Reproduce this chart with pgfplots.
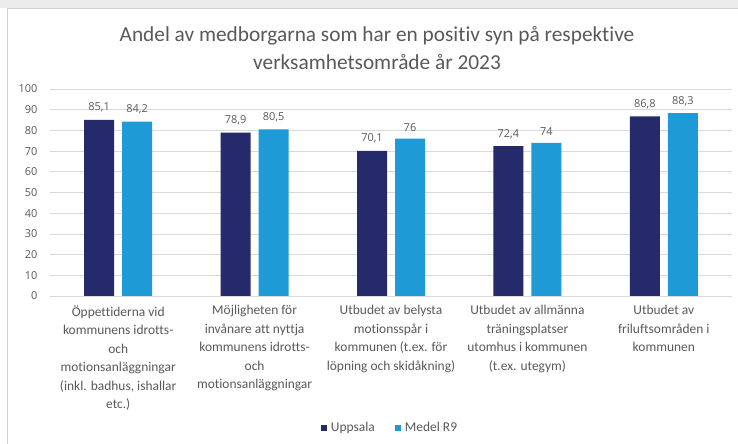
\documentclass[border=0pt]{standalone}
\usepackage{pgfplots}
\pgfplotsset{compat=1.18}
\usepackage{fontspec}
\setmainfont{Carlito}[Ligatures=NoCommon]
\newfontfamily\numfont{Open Sans}
\definecolor{dark}{HTML}{252A6B}
\definecolor{light}{HTML}{1E9BD7}
\definecolor{txt}{HTML}{595959}
\definecolor{gridc}{HTML}{D9D9D9}
\begin{document}
\begin{tikzpicture}[x=1bp,y=1bp]
\useasboundingbox (0,0) rectangle (738,444);
\fill[white] (0,0) rectangle (738,444);
\fill[gray!15] (0,436) rectangle (738,444);
\draw[gray!35] (7,0) -- (7,436) -- (738,436);
\node[txt, font=\fontsize{21.4}{28}\selectfont, align=center] at (377,396) {Andel av medborgarna som har en positiv syn på respektive\\verksamhetsområde år 2023};
\begin{axis}[
  at={(50bp,148bp)}, anchor=south west, scale only axis,
  width=682bp, height=207bp,
  ybar=8bp, bar width=30bp,
  xmin=-0.5, xmax=4.5, ymin=0, ymax=100,
  ytick={0,10,...,100},
  xtick={0,1,2,3,4},
  xticklabels={
    {Öppettiderna vid\\kommunens idrotts-\\och\\motionsanläggningar\\(inkl. badhus, ishallar\\etc.)},
    {Möjligheten för\\invånare att nyttja\\kommunens idrotts-\\och\\motionsanläggningar},
    {Utbudet av belysta\\motionsspår i\\kommunen (t.ex. för\\löpning och skidåkning)},
    {Utbudet av allmänna\\träningsplatser\\utomhus i kommunen\\(t.ex. utegym)},
    {Utbudet av\\friluftsområden i\\kommunen}},
  axis line style={draw=none},
  ymajorgrids, grid style={draw=gridc, line width=0.75bp},
  major tick length=0pt,
  tick label style={text=txt},
  /pgf/number format/assume math mode=true,
  /pgf/number format/use comma,
  yticklabel style={font=\numfont\fontsize{11}{12}\selectfont, xshift=-9bp},
  xticklabel style={font=\fontsize{13.5}{18.5}\selectfont, align=center, anchor=north, yshift=-6bp},
  nodes near coords,
  nodes near coords style={text=txt, font=\numfont\fontsize{11}{12}\selectfont, yshift=4bp},
  clip=false,
  legend style={at={(0.5,-0.638)}, anchor=center, draw=none, fill=none,
    legend columns=2, font=\fontsize{13.5}{15}\selectfont, text=txt,
    nodes={inner xsep=4bp},
    /tikz/every even column/.append style={column sep=16bp}},
  legend image code/.code={\fill[#1] (0bp,-3bp) rectangle (6bp,3bp);},
]
\addplot[fill=dark, draw=none] coordinates {(0,85.1) (1,78.9) (2,70.1) (3,72.4) (4,86.8)};
\addplot[fill=light, draw=none] coordinates {(0,84.2) (1,80.5) (2,76) (3,74) (4,88.3)};
\legend{Uppsala, Medel R9}
\end{axis}
\end{tikzpicture}
\end{document}
